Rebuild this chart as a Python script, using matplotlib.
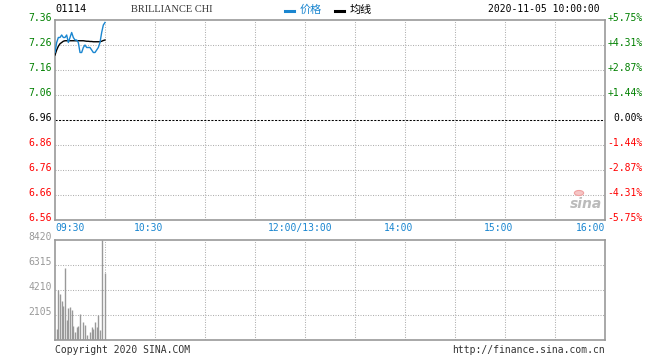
import numpy as np
import matplotlib
matplotlib.use('Agg')
import matplotlib.pyplot as plt
from matplotlib.patches import Circle

plt.rcParams['font.family'] = ['DejaVu Sans Mono', 'Noto Sans CJK SC']

# data (minutes since 09:30, 330 trading minutes)
prev_close = 6.96
price_ticks = [7.36, 7.26, 7.16, 7.06, 6.96, 6.86, 6.76, 6.66, 6.56]
price = [7.23, 7.27, 7.29, 7.29, 7.30, 7.29, 7.29, 7.30, 7.27, 7.29,
         7.31, 7.29, 7.28, 7.28, 7.27, 7.23, 7.23, 7.25, 7.26, 7.25,
         7.25, 7.25, 7.24, 7.23, 7.23, 7.24, 7.25, 7.27, 7.31, 7.34, 7.35]
avg = [7.22, 7.24, 7.255, 7.265, 7.27, 7.275, 7.277, 7.277, 7.277, 7.277,
       7.277, 7.277, 7.277, 7.277, 7.277, 7.277, 7.277, 7.277, 7.276, 7.275,
       7.275, 7.274, 7.274, 7.273, 7.273, 7.273, 7.273, 7.273, 7.275, 7.278, 7.28]
volume = [0, 926, 4210, 3873, 3312, 2863, 6034, 1684, 2694, 2778,
          2526, 1179, 645, 1066, 1179, 2189, 112, 1516, 1263, 393,
          84, 674, 1123, 926, 1516, 1095, 2077, 870, 8420, 0, 5614]
vol_ticks = [8420, 6315, 4210, 2105]
time_pos = [0, 60, 150, 210, 270, 330]
time_labels = ['09:30', '10:30', '12:00/13:00', '14:00', '15:00', '16:00']

blue = '#1a86d0'
frame = '#999999'
gridc = '#b0b0b0'

fig = plt.figure(figsize=(6.6, 3.6), dpi=100)
ax = fig.add_axes([55/660, 1-220/360, 550/660, 200/360])
axv = fig.add_axes([55/660, 1-340/360, 550/660, 100/360])

for a in (ax, axv):
    a.set_xlim(0, 330)
    for s in a.spines.values():
        s.set_color(frame)
        s.set_linewidth(1.2)
    a.set_xticks([])
    a.set_yticks([])
    for x in range(30, 330, 30):
        a.axvline(x, color=gridc, lw=0.75, dashes=(1, 1.4), zorder=1)

# price panel
ax.set_ylim(6.56, 7.36)
for p in price_ticks[1:-1]:
    if p == prev_close:
        ax.axhline(p, color='black', lw=0.75, dashes=(2, 1.4), zorder=2)
    else:
        ax.axhline(p, color=gridc, lw=0.75, dashes=(1, 1.4), zorder=1)
mins = np.arange(len(price))
ax.plot(mins, price, color=blue, lw=1.0, zorder=4)
ax.plot(mins, avg, color='black', lw=1.0, zorder=3)

for p in price_ticks:
    if p > prev_close + 1e-9:
        c = '#008000'
    elif p < prev_close - 1e-9:
        c = '#ff0000'
    else:
        c = 'black'
    pct = (p / prev_close - 1) * 100
    pl = '%+.2f%%' % pct if abs(pct) > 1e-9 else '0.00%'
    ax.annotate('%.2f' % p, (0, p), xycoords=('axes fraction', 'data'),
                xytext=(-3, 2), textcoords='offset pixels', ha='right', va='center',
                fontsize=7, color=c)
    ax.annotate(pl, (1, p), xycoords=('axes fraction', 'data'),
                xytext=(38, 2), textcoords='offset pixels', ha='right', va='center',
                fontsize=7, color=c)

offs = [0, -6, -5, -6, -6, 0]
for t, lab, o in zip(time_pos, time_labels, offs):
    ha = 'left' if t == 0 else ('right' if t == 330 else 'center')
    ax.annotate(lab, (t, 0), xycoords=('data', 'axes fraction'),
                xytext=(o, -8), textcoords='offset pixels', ha=ha, va='center',
                fontsize=7, color=blue)

# volume panel
axv.set_ylim(0, vol_ticks[0])
for v in vol_ticks[1:]:
    axv.axhline(v, color=gridc, lw=0.75, dashes=(1, 1.4), zorder=1)
vm = np.arange(len(volume))
axv.vlines(vm, 0, volume, color='#999999', lw=1.0, zorder=3)
for v in vol_ticks:
    axv.annotate(str(v), (0, v), xycoords=('axes fraction', 'data'),
                 xytext=(-3, 3), textcoords='offset pixels', ha='right', va='center',
                 fontsize=7, color='#999999')

# header
fig.text(55/660, 1-9/360, '01114', fontsize=7.5, color='black', va='center', ha='left')
fig.text(172/660, 1-10/360, 'BRILLIANCE CHI', fontsize=7.5, color='#333333',
         va='center', ha='center', family='Liberation Serif')
fig.add_artist(plt.Line2D([285/660, 294/660], [1-11/360, 1-11/360], color=blue, lw=2.2))
fig.text(300/660, 1-10/360, '价格', fontsize=8, color=blue, va='center', ha='left',
         family=['Noto Sans CJK SC'])
fig.add_artist(plt.Line2D([335/660, 344/660], [1-11/360, 1-11/360], color='black', lw=2.2))
fig.text(350/660, 1-10/360, '均线', fontsize=8, color='black', va='center', ha='left',
         family=['Noto Sans CJK SC'])
fig.text(600/660, 1-9/360, '2020-11-05 10:00:00', fontsize=7, color='black',
         va='center', ha='right')

# footer
fig.text(55/660, 1-350/360, 'Copyright 2020 SINA.COM', fontsize=7, color='#333333',
         va='center', ha='left')
fig.text(605/660, 1-350/360, 'http://finance.sina.com.cn', fontsize=7, color='#333333',
         va='center', ha='right')

# sina watermark
fig.add_artist(Circle((579/660, 1-193/360), 0.007, transform=fig.transFigure,
                      facecolor='#f6c6c6', edgecolor='#f0a0a0', lw=0.8))
fig.text(586/660, 1-204/360, 'sina', fontsize=10, color='#bbbbbb', style='italic',
         weight='bold', va='center', ha='center', family='DejaVu Sans')

fig.savefig('out.png', dpi=100)
